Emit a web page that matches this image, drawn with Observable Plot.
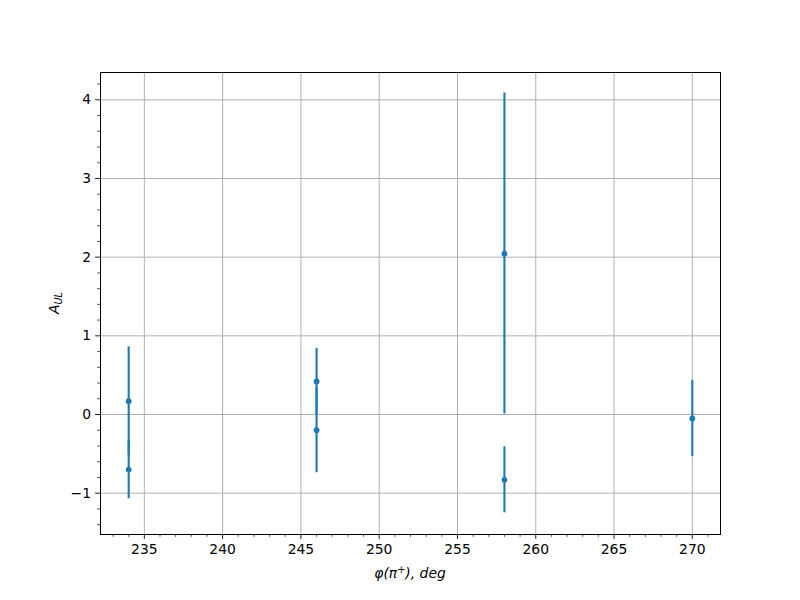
<!DOCTYPE html>
<html>
<head>
<meta charset="utf-8">
<script src="https://cdn.jsdelivr.net/npm/d3@7"></script>
<script src="https://cdn.jsdelivr.net/npm/@observablehq/plot@0.6"></script>
<style>
  html, body { margin: 0; padding: 0; background: #fff; }
  #chart svg { display: block; }
</style>
</head>
<body>
<div id="chart"></div>
<script>
// Data
const phi = [234, 234, 246, 246, 258, 258, 270];
const aul = [0.17, -0.70, 0.42, -0.20, 2.045, -0.83, -0.05];
const err = [0.69, 0.37, 0.42, 0.54, 2.04, 0.42, 0.485];
const xMajorTicks = [235, 240, 245, 250, 255, 260, 265, 270];
const yMajorTicks = [-1, 0, 1, 2, 3, 4];

const data = phi.map((x, i) => ({x, y: aul[i], lo: aul[i] - err[i], hi: aul[i] + err[i]}));
const xMinor = d3.range(233, 272, 1).filter(v => !xMajorTicks.includes(v));
const yMinor = d3.range(-1.4, 4.3, 0.2).map(v => Math.round(v * 10) / 10).filter(v => !yMajorTicks.includes(v));

const blue = "#1f77b4";
const font = "DejaVu Sans, sans-serif";

const plot = Plot.plot({
  width: 800,
  height: 600,
  marginLeft: 100,
  marginRight: 80,
  marginTop: 72,
  marginBottom: 66,
  style: {fontFamily: font, fontSize: "13.9px", background: "white"},
  x: {domain: [232.2, 271.8], label: null},
  y: {domain: [-1.525, 4.347], label: null},
  marks: [
    Plot.gridX(xMajorTicks, {stroke: "#b0b0b0", strokeOpacity: 1, strokeWidth: 1}),
    Plot.gridY(yMajorTicks, {stroke: "#b0b0b0", strokeOpacity: 1, strokeWidth: 1}),
    Plot.axisX(xMinor, {tickSize: 2.8, text: null, stroke: "black", strokeWidth: 0.7}),
    Plot.axisY(yMinor, {tickSize: 2.8, text: null, stroke: "black", strokeWidth: 0.7}),
    Plot.axisX(xMajorTicks, {tickSize: 4.9, tickPadding: 4.5, stroke: "black", strokeWidth: 0.9, fill: "black", tickFormat: d => String(d), fontSize: 13.9}),
    Plot.axisY(yMajorTicks, {tickSize: 4.9, tickPadding: 4.5, stroke: "black", strokeWidth: 0.9, fill: "black", tickFormat: d => (d < 0 ? "\u2212" + Math.abs(d) : String(d)), fontSize: 13.9}),
    Plot.ruleX(data, {x: "x", y1: "lo", y2: "hi", stroke: blue, strokeWidth: 2.1}),
    Plot.dot(data, {x: "x", y: "y", r: 2.9, fill: blue, stroke: "none"}),
    Plot.frame({stroke: "black", strokeWidth: 1})
  ]
});

const svg = d3.select(plot);
// x-axis label: φ(π⁺), deg (mathtext italic)
const xl = svg.append("text")
  .attr("x", 410).attr("y", 578)
  .attr("text-anchor", "middle")
  .attr("font-family", font).attr("font-size", 13.9).attr("fill", "black");
xl.append("tspan").attr("font-style", "italic").text("\u03C6(\u03C0");
xl.append("tspan").attr("font-style", "italic").attr("font-size", 9.7).attr("dy", -5).text("+");
xl.append("tspan").attr("font-style", "italic").attr("dy", 5).text("), deg");

// y-axis label: A_UL
const yl = svg.append("text")
  .attr("transform", "translate(59,303) rotate(-90)")
  .attr("text-anchor", "middle")
  .attr("font-family", font).attr("font-size", 13.9).attr("fill", "black");
yl.append("tspan").attr("font-style", "italic").text("A");
yl.append("tspan").attr("font-style", "italic").attr("font-size", 9.7).attr("dy", 3).text("UL");

document.getElementById("chart").appendChild(plot);
</script>
</body>
</html>
